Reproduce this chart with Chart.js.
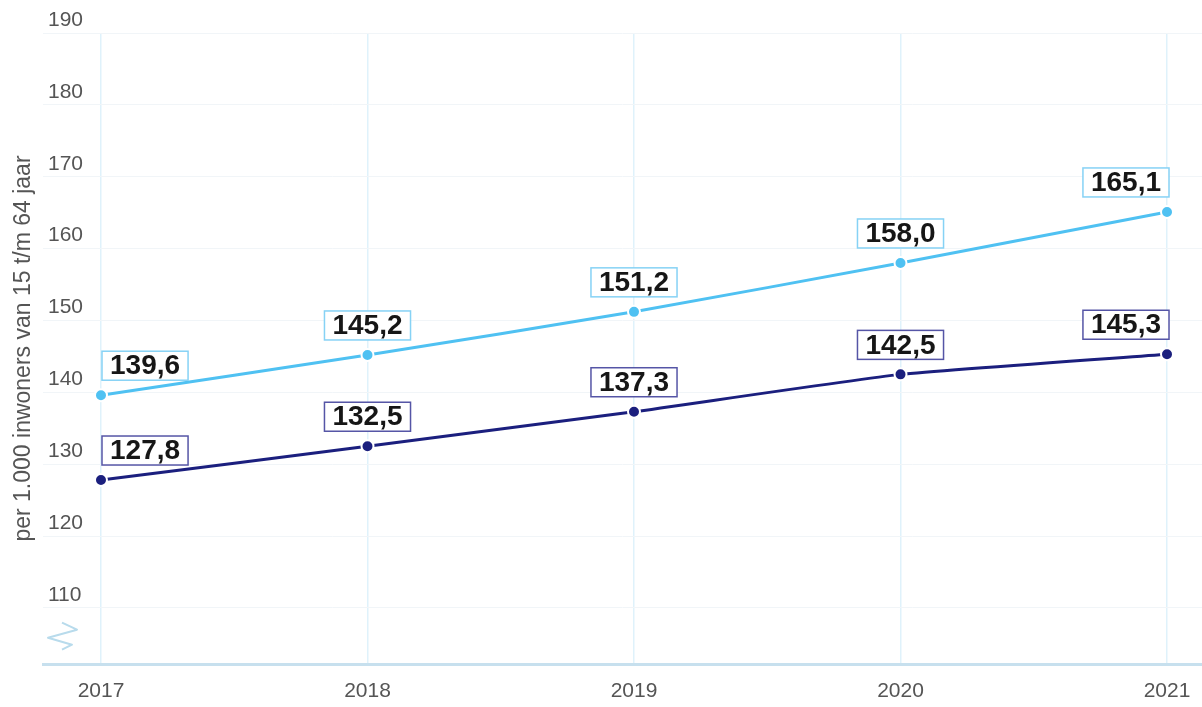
<!DOCTYPE html>
<html>
<head>
<meta charset="utf-8">
<script src="https://cdn.jsdelivr.net/npm/chart.js@4"></script>
<style>
  html, body { margin: 0; padding: 0; background: #fff; overflow: hidden; }
  canvas { display: block; }
</style>
</head>
<body>
<canvas id="myChart" width="1202" height="707"></canvas>
<script>
var years = [2017, 2018, 2019, 2020, 2021];
var reeksLicht = [139.6, 145.2, 151.2, 158.0, 165.1];
var reeksDonker = [127.8, 132.5, 137.3, 142.5, 145.3];
var yTicks = [110, 120, 130, 140, 150, 160, 170, 180, 190];
var yTitel = 'per 1.000 inwoners van 15 t/m 64 jaar';

var lichtBlauw = '#4fc1f2';
var donkerBlauw = '#1b1f7e';

function punten(vals) {
    return years.map(function(j, i) { return { x: j, y: vals[i] }; });
}

function nl(v) {
    return v.toFixed(1).replace('.', ',');
}

// labels met kader boven de punten
var labelPlugin = {
    id: 'waardeLabels',
    afterDatasetsDraw: function(chart) {
        var ctx = chart.ctx;
        var kaderKleur = ['#86d2f5', '#5555a6'];
        chart.data.datasets.forEach(function(ds, di) {
            var meta = chart.getDatasetMeta(di);
            var eerste = meta.data[0].x;
            var laatste = meta.data[meta.data.length - 1].x;
            ctx.save();
            ctx.font = 'bold 28px "Liberation Sans", Arial, sans-serif';
            meta.data.forEach(function(p, i) {
                var txt = nl(ds.data[i].y);
                var w = ctx.measureText(txt).width + 16;
                var h = 29;
                var left = p.x - w / 2;
                if (left < eerste) left = eerste + 1;
                if (left + w > laatste + 2) left = laatste + 2 - w;
                var top = p.y - 15 - h;
                ctx.fillStyle = '#fff';
                ctx.fillRect(left, top, w, h);
                ctx.strokeStyle = kaderKleur[di];
                ctx.lineWidth = 1.5;
                ctx.strokeRect(left, top, w, h);
                ctx.fillStyle = '#161616';
                ctx.textAlign = 'center';
                ctx.textBaseline = 'middle';
                ctx.fillText(txt, left + w / 2, top + h / 2 + 1);
            });
            ctx.restore();
        });
    }
};

// asbreuk-teken onderaan de y-as
var breukPlugin = {
    id: 'asBreuk',
    afterDraw: function(chart) {
        var ctx = chart.ctx;
        var a = chart.chartArea;
        var yb = chart.scales.y.getPixelForValue(106);
        ctx.save();
        ctx.strokeStyle = '#b8dbec';
        ctx.lineWidth = 2;
        ctx.lineJoin = 'round';
        ctx.beginPath();
        ctx.moveTo(a.left + 19, yb - 14);
        ctx.lineTo(a.left + 34, yb - 7);
        ctx.lineTo(a.left + 5, yb + 1);
        ctx.lineTo(a.left + 29, yb + 8);
        ctx.lineTo(a.left + 19, yb + 13);
        ctx.stroke();
        ctx.restore();
    }
};

var ctx = document.getElementById('myChart').getContext('2d');
var myChart = new Chart(ctx, {
    type: 'line',
    data: {
        datasets: [{
            label: 'licht',
            data: punten(reeksLicht),
            borderColor: lichtBlauw,
            backgroundColor: lichtBlauw,
            borderWidth: 3,
            pointRadius: 6,
            pointBorderWidth: 2,
            pointBorderColor: '#fff',
            pointBackgroundColor: lichtBlauw,
            tension: 0.15
        }, {
            label: 'donker',
            data: punten(reeksDonker),
            borderColor: donkerBlauw,
            backgroundColor: donkerBlauw,
            borderWidth: 3,
            pointRadius: 6,
            pointBorderWidth: 2,
            pointBorderColor: '#fff',
            pointBackgroundColor: donkerBlauw,
            tension: 0.15
        }]
    },
    options: {
        responsive: false,
        animation: false,
        layout: { autoPadding: false, padding: { top: 33, right: 0, bottom: 0, left: 0 } },
        plugins: {
            legend: { display: false },
            tooltip: { enabled: false }
        },
        scales: {
            x: {
                type: 'linear',
                min: 2016.7824,
                max: 2021.1313,
                afterBuildTicks: function(scale) {
                    scale.ticks = years.map(function(v) { return { value: v }; });
                },
                afterFit: function(scale) {
                    scale.height = 43;
                    scale.paddingLeft = 0;
                    scale.paddingRight = 0;
                },
                grid: { color: '#dff2fb', lineWidth: 1.5, drawTicks: false },
                border: { color: '#c7e0ee', width: 3 },
                ticks: {
                    padding: 15,
                    color: '#555',
                    font: { size: 21, family: '"Liberation Sans", Arial, sans-serif' },
                    callback: function(v) { return String(v); }
                }
            },
            y: {
                min: 102.2,
                max: 190,
                afterBuildTicks: function(scale) {
                    scale.ticks = yTicks.map(function(v) { return { value: v }; });
                },
                afterFit: function(scale) {
                    scale.width = 43;
                    scale.paddingTop = 0;
                    scale.paddingBottom = 0;
                },
                grid: { color: '#f1f5f8', lineWidth: 1, drawTicks: false },
                border: { display: false },
                title: {
                    display: true,
                    text: yTitel,
                    color: '#555',
                    padding: { top: 10, bottom: 0 },
                    font: { size: 23, family: '"Liberation Sans", Arial, sans-serif' }
                },
                ticks: {
                    mirror: true,
                    padding: 5,
                    labelOffset: -13,
                    color: '#555',
                    font: { size: 21, family: '"Liberation Sans", Arial, sans-serif' }
                }
            }
        }
    },
    plugins: [labelPlugin, breukPlugin]
});
</script>
</body>
</html>
